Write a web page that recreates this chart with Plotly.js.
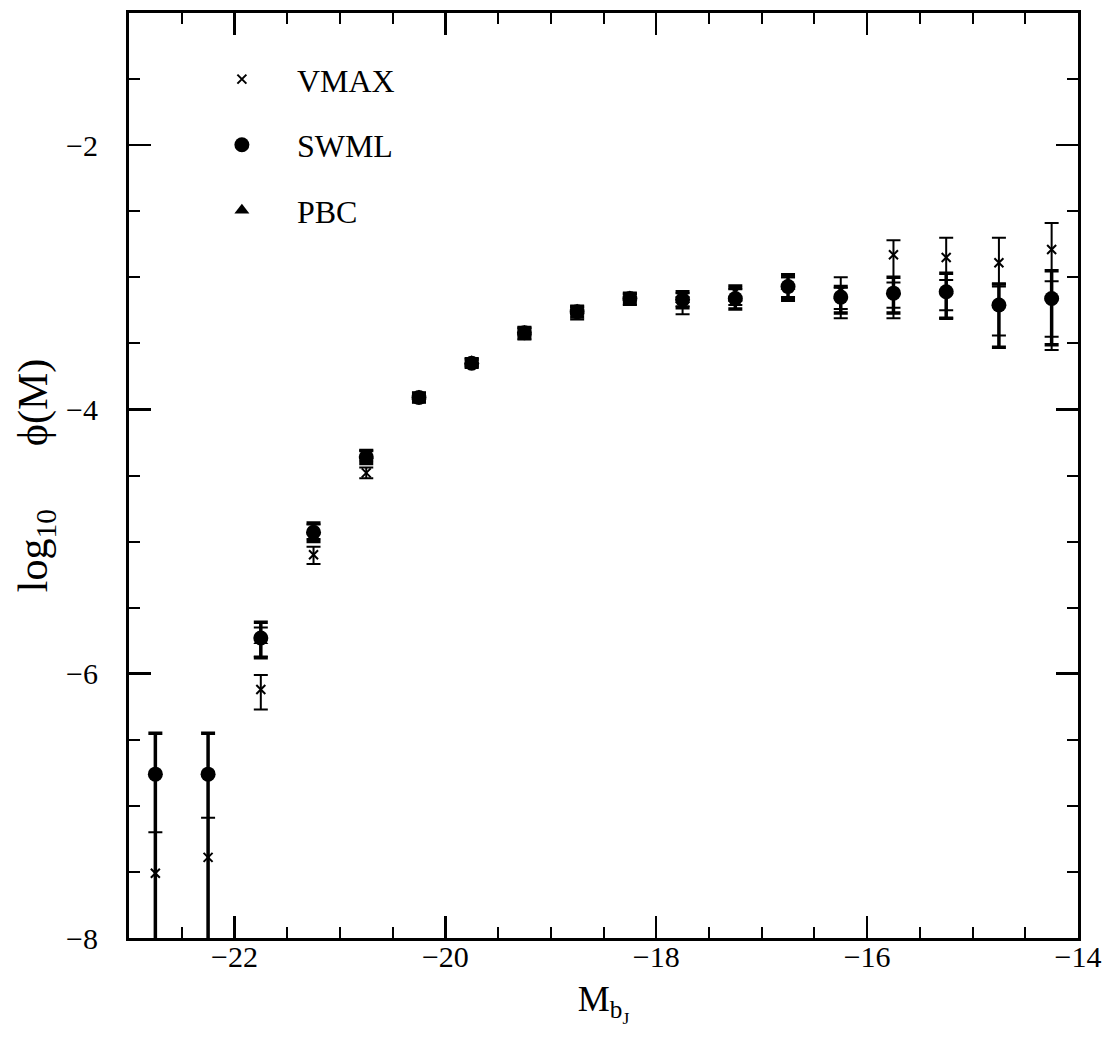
<!DOCTYPE html>
<html>
<head>
<meta charset="utf-8">
<script src="https://cdn.plot.ly/plotly-3.0.1.min.js"></script>
<style>
  html, body { margin: 0; padding: 0; background: #fff; }
  #lf { width: 1117px; height: 1047px; }
</style>
</head>
<body>
<div id="lf"></div>
<script>
// Absolute magnitude bins (M_bJ)
const magBins = [-22.75, -22.25, -21.75, -21.25, -20.75, -20.25, -19.75, -19.25, -18.75,
                 -18.25, -17.75, -17.25, -16.75, -16.25, -15.75, -15.25, -14.75, -14.25];

// 1/Vmax estimate: log10 phi and its upper / lower errors
const vmaxPhi   = [-7.51, -7.39, -6.12, -5.10, -4.48, -3.92, -3.65, -3.43, -3.27,
                   -3.17, -3.20, -3.11, -3.08, -3.10, -2.83, -2.85, -2.89, -2.79];
const vmaxErrUp = [0.31, 0.30, 0.11, 0.06, 0.04, 0.03, 0.03, 0.04, 0.04,
                   0.04, 0.05, 0.05, 0.08, 0.10, 0.11, 0.15, 0.19, 0.20];
const vmaxErrLo = [1.50, 1.50, 0.15, 0.07, 0.04, 0.03, 0.03, 0.04, 0.05,
                   0.04, 0.08, 0.07, 0.10, 0.21, 0.48, 0.46, 0.18, 0.76];

// Stepwise maximum likelihood estimate
const swmlPhi   = [-6.76, -6.76, -5.73, -4.93, -4.36, -3.91, -3.65, -3.42, -3.26,
                   -3.16, -3.17, -3.16, -3.07, -3.15, -3.12, -3.11, -3.21, -3.16];
const swmlErrUp = [0.31, 0.31, 0.12, 0.07, 0.05, 0.03, 0.03, 0.04, 0.04,
                   0.04, 0.06, 0.08, 0.09, 0.08, 0.12, 0.14, 0.16, 0.21];
const swmlErrLo = [1.60, 1.60, 0.15, 0.07, 0.05, 0.03, 0.03, 0.04, 0.04,
                   0.04, 0.06, 0.08, 0.09, 0.12, 0.15, 0.20, 0.32, 0.35];

// PBC estimate
const pbcPhi    = [null, null, -5.75, -4.92, -4.35, -3.90, -3.64, -3.41, -3.25,
                   -3.15, -3.17, -3.15, -3.07, -3.14, -3.11, -3.10, -3.19, -3.15];
const pbcErrUp  = [0, 0, 0.10, 0.05, 0.04, 0.03, 0.03, 0.03, 0.03,
                   0.03, 0.05, 0.06, 0.07, 0.06, 0.07, 0.08, 0.14, 0.12];
const pbcErrLo  = [0, 0, 0.12, 0.06, 0.04, 0.03, 0.03, 0.03, 0.03,
                   0.03, 0.05, 0.06, 0.08, 0.10, 0.12, 0.15, 0.25, 0.30];

const serif = 'Liberation Serif, DejaVu Serif, serif';

const traces = [
  {
    name: 'VMAX', x: magBins, y: vmaxPhi, type: 'scatter', mode: 'markers',
    legendgroup: 'a', legendrank: 1,
    marker: { symbol: 'x-thin-open', size: 9, color: '#000', line: { color: '#000', width: 2 } },
    error_y: { type: 'data', symmetric: false, array: vmaxErrUp, arrayminus: vmaxErrLo,
               color: '#000', thickness: 2, width: 7 }
  },
  {
    name: 'PBC', x: magBins, y: pbcPhi, type: 'scatter', mode: 'markers',
    legendgroup: 'c', legendrank: 3,
    marker: { symbol: 'triangle-up', size: 13, color: '#000' },
    error_y: { type: 'data', symmetric: false, array: pbcErrUp, arrayminus: pbcErrLo,
               color: '#000', thickness: 2, width: 7 }
  },
  {
    name: 'SWML', x: magBins, y: swmlPhi, type: 'scatter', mode: 'markers',
    legendgroup: 'b', legendrank: 2,
    marker: { symbol: 'circle', size: 15, color: '#000' },
    error_y: { type: 'data', symmetric: false, array: swmlErrUp, arrayminus: swmlErrLo,
               color: '#000', thickness: 3.5, width: 7 }
  }
];

const axisCommon = {
  showgrid: false, zeroline: false,
  showline: true, linecolor: '#000', linewidth: 3, mirror: 'ticks',
  ticks: 'inside', ticklen: 22, tickwidth: 2.5, tickcolor: '#000',
  tickfont: { family: serif, size: 30, color: '#000' },
  dtick: 2,
  minor: { dtick: 0.5, ticks: 'inside', ticklen: 11, tickwidth: 2, tickcolor: '#000' }
};

const layout = {
  width: 1117, height: 1047,
  paper_bgcolor: '#fff', plot_bgcolor: '#fff',
  margin: { l: 129, r: 39, t: 13, b: 109 },
  font: { family: serif, color: '#000' },
  xaxis: Object.assign({}, axisCommon, {
    range: [-23, -14], tick0: -22,
    ticklabelstandoff: -10,
    title: { text: 'M<sub>b<sub>J</sub></sub>', font: { family: serif, size: 36 }, standoff: 14 }
  }),
  yaxis: Object.assign({}, axisCommon, {
    range: [-8, -1], tick0: -8,
    ticklabelstandoff: 22,
    title: { text: 'log<sub>10</sub>\u2003\u2002ϕ(M)', font: { family: serif, size: 42 }, standoff: 6 }
  }),
  showlegend: true,
  legend: {
    x: 0.061, y: 0.958, xanchor: 'left', yanchor: 'top',
    bgcolor: 'rgba(0,0,0,0)', borderwidth: 0,
    font: { family: serif, size: 32, color: '#000' },
    itemwidth: 100, tracegroupgap: 21, traceorder: 'grouped'
  }
};

Plotly.newPlot('lf', traces, layout, { displayModeBar: false, staticPlot: true });
</script>
</body>
</html>
